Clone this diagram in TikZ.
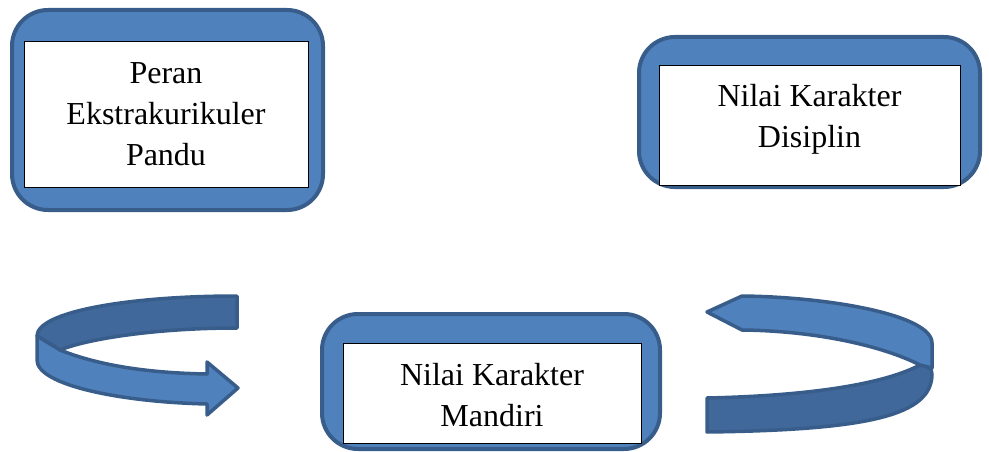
\documentclass[tikz,border=0pt]{standalone}
\usepackage{fontspec}
\setmainfont{Liberation Serif}
\usepackage{tikz}
\usetikzlibrary{arrows}

\definecolor{boxblue}{RGB}{79,129,189}
\definecolor{darkblue}{RGB}{64,104,155}
\definecolor{edgeblue}{RGB}{56,93,138}

\begin{document}
\begin{tikzpicture}[x=1pt,y=-1pt,
  frame node/.style={rectangle,rounded corners=36pt,fill=boxblue,draw=edgeblue,line width=4pt,inner sep=0pt},
  text node/.style={rectangle,fill=white,draw=black,line width=0.9pt,inner sep=0pt},
  word node/.style={align=center,font=\fontsize{32}{41}\selectfont},
  band/.style={draw=edgeblue,line width=3.5pt,line join=round}]
  \useasboundingbox (0,0) rectangle (989,452);

  \node[frame node,minimum width=311pt,minimum height=200pt] (1) at (167.5,110) {};
  \node[frame node,minimum width=341pt,minimum height=150pt] (2) at (809.5,112) {};
  \node[frame node,minimum width=338pt,minimum height=135pt] (3) at (491,381.5) {};
  \node[text node,minimum width=284pt,minimum height=146pt] (4) at (166,114) {};
  \node[text node,minimum width=301pt,minimum height=120pt] (5) at (809.5,125) {};
  \node[text node,minimum width=298pt,minimum height=100pt] (6) at (492,393) {};
  \node[word node] (7) at (4) {Peran\\Ekstrakurikuler\\Pandu};
  \node[word node] (8) at ([yshift=6pt]5) {Nilai Karakter\\Disiplin};
  \node[word node] (9) at ([yshift=-2pt]6) {Nilai Karakter\\Mandiri};

  % left turning arrow
  \filldraw[band,fill=darkblue] (237,296) .. controls (127,296) and (37,312) .. (37,336)
    -- (60,350) .. controls (90,338) and (160,328) .. (237,328) -- cycle;
  \filldraw[band,fill=boxblue] (37,336) -- (60,350) .. controls (100,366) and (150,373) .. (207,374)
    -- (207,362) -- (238,388) -- (207,415) -- (207,404)
    .. controls (120,402) and (37,385) .. (37,360) -- cycle;

  % right turning arrow
  \filldraw[band,fill=darkblue] (707,398) .. controls (800,396) and (880,386) .. (920,365)
    .. controls (928,366) and (932,368) .. (932,374)
    .. controls (932,415) and (870,430) .. (707,432) -- cycle;
  \filldraw[band,fill=boxblue] (707,312) -- (742,296) .. controls (830,297) and (932,315) .. (932,343)
    -- (932,368) -- (920,365) .. controls (885,347) and (820,331) .. (742,330) -- cycle;
\end{tikzpicture}
\end{document}
